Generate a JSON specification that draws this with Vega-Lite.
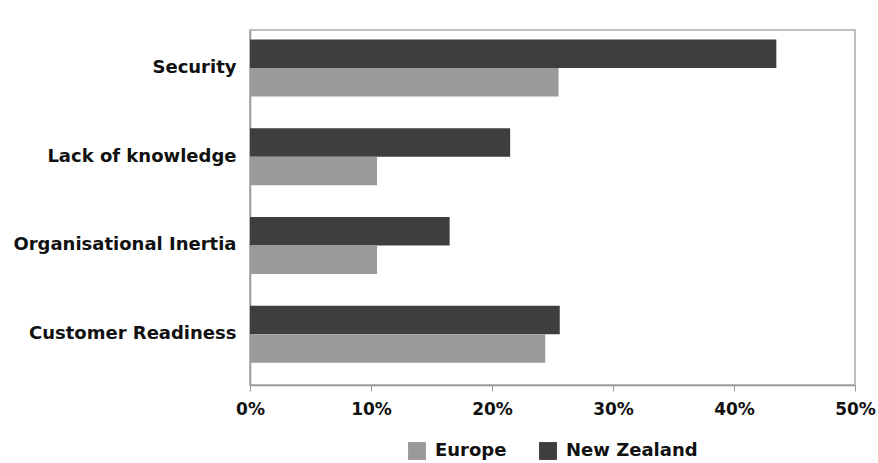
{
  "$schema": "https://vega.github.io/schema/vega-lite/v6.json",
  "autosize": "none",
  "width": 605,
  "height": 355,
  "padding": {"left": 250, "top": 30, "right": 23, "bottom": 78},
  "background": "white",
  "data": {
    "values": [
      {"issue": "Security", "region": "New Zealand", "share": 43.5},
      {"issue": "Security", "region": "Europe", "share": 25.5},
      {"issue": "Lack of knowledge", "region": "New Zealand", "share": 21.5},
      {"issue": "Lack of knowledge", "region": "Europe", "share": 10.5},
      {"issue": "Organisational Inertia", "region": "New Zealand", "share": 16.5},
      {"issue": "Organisational Inertia", "region": "Europe", "share": 10.5},
      {"issue": "Customer Readiness", "region": "New Zealand", "share": 25.6},
      {"issue": "Customer Readiness", "region": "Europe", "share": 24.4}
    ]
  },
  "mark": {"type": "bar"},
  "encoding": {
    "y": {
      "field": "issue",
      "type": "nominal",
      "sort": ["Security", "Lack of knowledge", "Organisational Inertia", "Customer Readiness"],
      "scale": {"paddingInner": 0.36, "paddingOuter": 0.18, "align": 0.3},
      "axis": {
        "title": null,
        "labelFont": "DejaVu Sans",
        "labelFontWeight": "bold",
        "labelFontSize": 18,
        "labelColor": "#111111",
        "labelPadding": 14,
        "labelLimit": 0,
        "ticks": false,
        "domainColor": "#999999",
        "domainWidth": 1.5
      }
    },
    "yOffset": {
      "field": "region",
      "type": "nominal",
      "sort": ["New Zealand", "Europe"],
      "scale": {"paddingInner": 0}
    },
    "x": {
      "field": "share",
      "type": "quantitative",
      "scale": {"domain": [0, 50], "nice": false},
      "axis": {
        "title": null,
        "values": [0, 10, 20, 30, 40, 50],
        "labelExpr": "datum.value + '%'",
        "labelFont": "DejaVu Sans",
        "labelFontWeight": "bold",
        "labelFontSize": 17,
        "labelColor": "#111111",
        "labelPadding": 10,
        "labelFlush": false,
        "tickColor": "#999999",
        "tickSize": 6,
        "domainColor": "#999999",
        "domainWidth": 1.5,
        "grid": false
      }
    },
    "color": {
      "field": "region",
      "type": "nominal",
      "scale": {"domain": ["Europe", "New Zealand"], "range": ["#9a9a9a", "#3e3e3e"]},
      "legend": {
        "title": null,
        "orient": "bottom",
        "direction": "horizontal",
        "offset": 25,
        "labelFont": "DejaVu Sans",
        "labelFontWeight": "bold",
        "labelFontSize": 18,
        "labelColor": "#111111",
        "symbolType": "square",
        "symbolSize": 320,
        "symbolStrokeWidth": 0,
        "columnPadding": 32,
        "labelOffset": 9
      }
    }
  },
  "config": {
    "view": {"stroke": "#aaaaaa", "strokeWidth": 1.5},
    "legend": {"layout": {"bottom": {"anchor": "middle"}}}
  }
}
